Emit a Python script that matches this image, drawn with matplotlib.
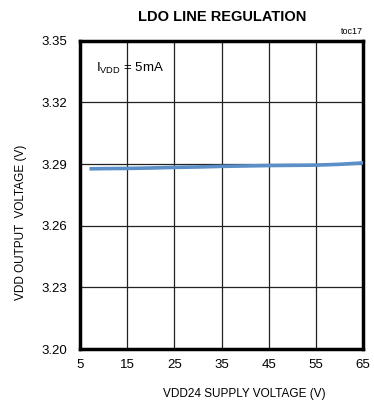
import matplotlib
matplotlib.use('Agg')
import matplotlib.pyplot as plt

vin = [7, 10, 15, 20, 25, 30, 35, 40, 45, 50, 55, 60, 65]
vdd = [3.2877, 3.2878, 3.2879, 3.2881, 3.2884, 3.2886, 3.2889, 3.2891, 3.2893, 3.2894, 3.2895, 3.2899, 3.2906]
xticks = [5, 15, 25, 35, 45, 55, 65]
yticks = [3.20, 3.23, 3.26, 3.29, 3.32, 3.35]

plt.rcParams['font.family'] = ['Liberation Sans', 'DejaVu Sans']

fig = plt.figure(figsize=(3.74, 4.04), dpi=100)
ax = fig.add_axes((0.214, 0.136, 0.757, 0.763))

ax.plot(vin, vdd, color='#5b8fc8', linewidth=2.6, solid_capstyle='butt', zorder=3)

ax.set_xlim(5, 65)
ax.set_ylim(3.20, 3.35)
ax.set_xticks(xticks)
ax.set_yticks(yticks)
ax.set_xticklabels([str(v) for v in xticks])
ax.set_yticklabels(['%.2f' % v for v in yticks])
ax.tick_params(length=0, labelsize=9.5, pad=7)
ax.tick_params(axis='y', pad=9)
ax.grid(True, color='#222222', linewidth=0.9)
for s in ax.spines.values():
    s.set_linewidth(2.5)

ax.set_xlabel('VDD24 SUPPLY VOLTAGE (V)', fontsize=8.5)
ax.xaxis.set_label_coords(0.58, -0.125)
ax.set_ylabel('VDD OUTPUT  VOLTAGE (V)', fontsize=8.5)
ax.yaxis.set_label_coords(-0.186, 0.41)
fig.text(0.594, 0.958, 'LDO LINE REGULATION', fontsize=10.5, fontweight='bold', ha='center', va='center')
fig.text(0.971, 0.923, 'toc17', fontsize=6.5, ha='right', va='center')
ax.text(0.055, 0.91, r'I$_{\mathregular{VDD}}$ = 5mA', transform=ax.transAxes, fontsize=9.5, va='center')

plt.savefig('out.png', dpi=100)
plt.close()
